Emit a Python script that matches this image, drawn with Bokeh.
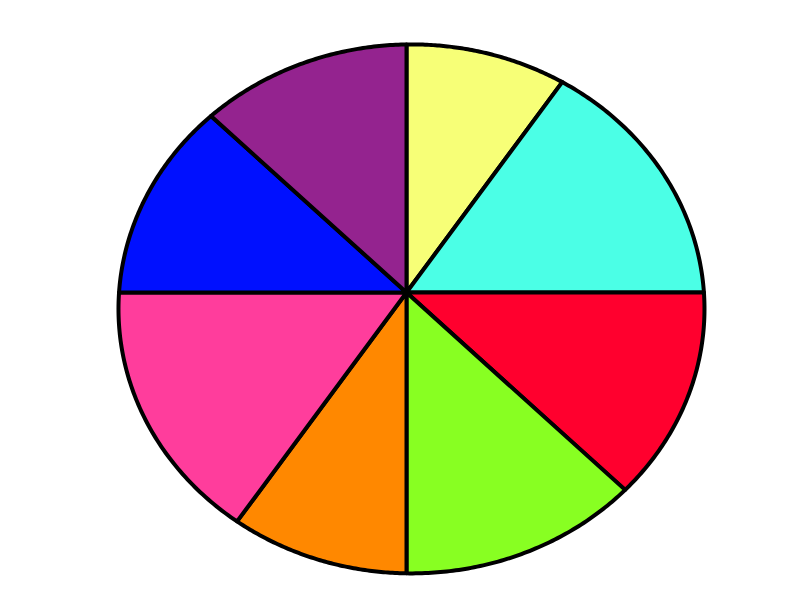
import numpy as np
from bokeh.plotting import figure
from bokeh.models import Range1d, ColumnDataSource
from bokeh.embed import file_html
from bokeh.resources import INLINE

# Data (clockwise from 12 o'clock)
labels = ["A", "B", "C", "D", "E", "F", "G", "H"]
values = [3, 5, 4, 4, 3, 5, 4, 4]
colors = ["#f7ff77", "#4bffe6", "#ff002e", "#88ff22", "#ff8800", "#ff3d9c", "#0010ff", "#94238f"]

# Shape of the (slightly off-centre) outline relative to the pie centre
ell_cx, ell_cy = 0.017, -0.062

def boundary(theta):
    d = np.array([np.sin(theta), np.cos(theta)])
    e = np.array([ell_cx, ell_cy])
    de = d @ e
    t = de + np.sqrt(de * de - e @ e + 1.0)
    return t * d

total = float(sum(values))
fr = np.cumsum([0.0] + values) / total
xs, ys = [], []
for i in range(len(values)):
    a0, a1 = 2 * np.pi * fr[i], 2 * np.pi * fr[i + 1]
    ang = np.linspace(a0, a1, 80)
    pts = np.array([boundary(a) for a in ang])
    xs.append([0.0] + list(pts[:, 0]) + [0.0])
    ys.append([0.0] + list(pts[:, 1]) + [0.0])

src = ColumnDataSource(dict(xs=xs, ys=ys, color=colors, label=labels))

W, H = 784, 584
cxp, cyp = 406, 292
sx, sy = 293.0, 264.5
p = figure(width=W, height=H, output_backend="svg", toolbar_location=None,
           x_range=Range1d(-cxp / sx, (W - cxp) / sx),
           y_range=Range1d(-(H - cyp) / sy, cyp / sy),
           min_border=0, outline_line_color=None)
p.axis.visible = False
p.grid.visible = False
p.background_fill_color = "white"
p.border_fill_color = "white"

p.patches("xs", "ys", source=src, fill_color="color", line_color="black",
          line_width=4, line_join="round")

open("out.html", "w").write(file_html(p, INLINE))
